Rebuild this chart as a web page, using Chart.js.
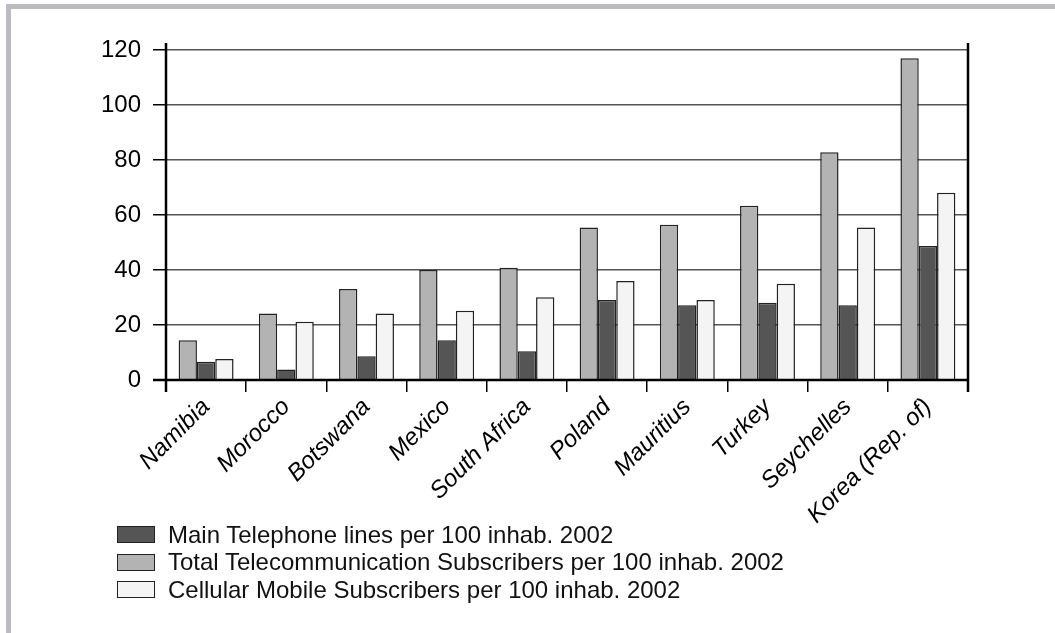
<!DOCTYPE html>
<html>
<head>
<meta charset="utf-8">
<script src="https://cdn.jsdelivr.net/npm/chart.js@4.4.1/dist/chart.umd.min.js"></script>
<style>
  html, body { margin: 0; padding: 0; background: #fff; }
  body { width: 1055px; height: 633px; position: relative; overflow: hidden; font-family: "Liberation Sans", Arial, sans-serif; }
  .frame-top { position: absolute; left: 6px; top: 4px; width: 1049px; height: 5px; background: #bcbcc0; }
  .frame-left { position: absolute; left: 6px; top: 4px; width: 5px; height: 629px; background: #bcbcc0; }
  #wrap { position: absolute; left: 0; top: 0; width: 1055px; height: 633px; }
  #legend { position: absolute; left: 117px; top: 521px; }
  .item { display: flex; align-items: center; height: 27.5px; font-size: 24px; color: #111; }
  .box { width: 36px; height: 15px; border: 1.5px solid #222; margin-right: 13px; }
</style>
</head>
<body>
<div class="frame-top"></div>
<div class="frame-left"></div>
<div id="wrap"><canvas id="telecom"></canvas></div>
<div id="legend"></div>
<script>
var countries = ['Namibia', 'Morocco', 'Botswana', 'Mexico', 'South Africa', 'Poland', 'Mauritius', 'Turkey', 'Seychelles', 'Korea (Rep. of)'];
var totalSubs = [14.5, 24.2, 33.1, 40.0, 40.8, 55.5, 56.5, 63.4, 82.8, 117.0];
var mainLines = [6.6, 3.8, 8.6, 14.5, 10.5, 29.1, 27.2, 28.1, 27.2, 48.7];
var cellular = [7.6, 21.2, 24.2, 25.2, 30.1, 36.0, 29.1, 35.0, 55.5, 68.1];
var yTicks = [0, 20, 40, 60, 80, 100, 120];

var labelTotal = 'Total Telecommunication Subscribers per 100 inhab. 2002';
var labelMain = 'Main Telephone lines per 100 inhab. 2002';
var labelCell = 'Cellular Mobile Subscribers per 100 inhab. 2002';

// left/right axis lines run a little past the plot area
var axisFrame = {
    id: 'axisFrame',
    afterDraw: function(chart) {
        var ctx = chart.ctx, a = chart.chartArea;
        ctx.save();
        ctx.strokeStyle = '#000';
        ctx.lineWidth = 2.5;
        ctx.beginPath();
        ctx.moveTo(a.left, a.top - 7);
        ctx.lineTo(a.left, a.bottom + 12);
        ctx.moveTo(a.right, a.top - 7);
        ctx.lineTo(a.right, a.bottom + 12);
        ctx.moveTo(a.left - 13, a.bottom);
        ctx.lineTo(a.right, a.bottom);
        ctx.stroke();
        ctx.restore();
    }
};

var ctx = document.getElementById('telecom').getContext('2d');
var telecomChart = new Chart(ctx, {
    type: 'bar',
    data: {
        labels: countries,
        datasets: [
            { label: labelTotal, data: totalSubs, backgroundColor: '#b3b3b3', borderColor: '#222', borderWidth: 1.5 },
            { label: labelMain, data: mainLines, backgroundColor: '#555555', borderColor: '#222', borderWidth: 1.5 },
            { label: labelCell, data: cellular, backgroundColor: '#f4f4f4', borderColor: '#222', borderWidth: 1.5 }
        ]
    },
    options: {
        responsive: true,
        maintainAspectRatio: false,
        animation: false,
        layout: { padding: { top: 50, right: 87, left: 0, bottom: 0 } },
        datasets: { bar: { categoryPercentage: 0.685, barPercentage: 1.0 } },
        plugins: {
            legend: { display: false },
            tooltip: { enabled: false }
        },
        scales: {
            x: {
                afterFit: function(scale) { scale.height = 253; },
                border: { display: false },
                grid: {
                    offset: true,
                    drawOnChartArea: false,
                    drawTicks: true,
                    tickLength: 12,
                    color: '#000',
                    lineWidth: 1.5
                },
                ticks: {
                    autoSkip: false,
                    maxRotation: 45,
                    minRotation: 45,
                    padding: 1,
                    color: '#000',
                    font: { family: '"Liberation Sans", Arial, sans-serif', size: 24, style: 'italic' }
                }
            },
            y: {
                min: 0,
                max: 120,
                afterFit: function(scale) { scale.width = 166; },
                afterBuildTicks: function(scale) { scale.ticks = yTicks.map(function(v) { return { value: v }; }); },
                border: { display: false },
                grid: {
                    color: '#555',
                    lineWidth: 1.5,
                    tickLength: 13,
                    tickColor: '#000'
                },
                ticks: {
                    padding: 12,
                    color: '#000',
                    font: { family: '"Liberation Sans", Arial, sans-serif', size: 24 }
                }
            }
        }
    },
    plugins: [axisFrame]
});

// legend lists main lines first, then total, then cellular
var legendOrder = [1, 0, 2];
var legendEl = document.getElementById('legend');
legendOrder.forEach(function(i) {
    var ds = telecomChart.data.datasets[i];
    var row = document.createElement('div');
    row.className = 'item';
    var box = document.createElement('span');
    box.className = 'box';
    box.style.background = ds.backgroundColor;
    var txt = document.createElement('span');
    txt.textContent = ds.label;
    row.appendChild(box);
    row.appendChild(txt);
    legendEl.appendChild(row);
});
</script>
</body>
</html>
